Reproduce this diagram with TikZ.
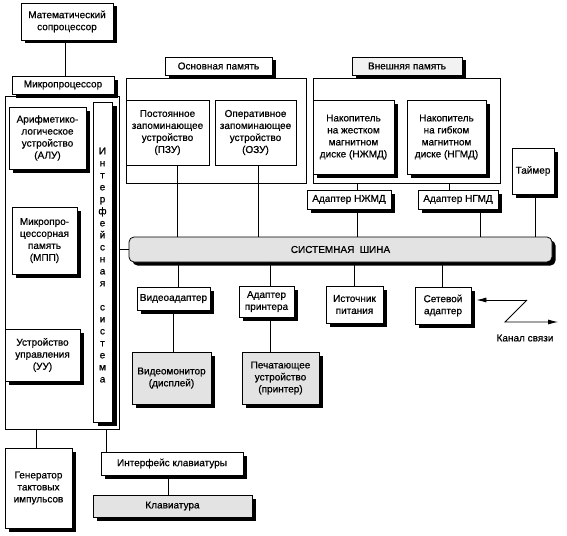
\documentclass[tikz,border=0pt]{standalone}
\usepackage{fontspec}
\setmainfont{Liberation Sans}
\newfontface\heavy{Liberation Sans}[FakeBold=0.6]
\usetikzlibrary{shadows,arrows.meta,calc}
\begin{document}
\begin{tikzpicture}[x=1pt,y=-1pt,
  txt/.style={font=\heavy\fontsize{10}{12}\selectfont},
  box/.style={txt, draw=black, line width=0.8pt, fill=white, align=center, inner sep=1pt},
  shd/.style={drop shadow={shadow xshift=3.5pt, shadow yshift=-3.5pt, fill=black, opacity=1}},
  stip/.style={fill=black!11},
  frame/.style={draw=black, line width=0.8pt, inner sep=0pt},
  conn/.style={line width=0.8pt},
  arr/.style={conn, -{Latex[length=10pt,width=5pt]}}
  ]
\useasboundingbox (0,0) rectangle (567,535);

% frames
\node[frame, minimum width=114pt, minimum height=333pt] (mpframe) at (62,262.5) {};
\node[frame, minimum width=180pt, minimum height=105pt] (omframe) at (216,130.5) {};
\node[frame, minimum width=187pt, minimum height=105pt] (emframe) at (406.5,130.5) {};

% processor
\node[box, shd, minimum width=92pt, minimum height=37pt] (cop) at (67,21.5) {Математический\\сопроцессор};
\node[box, shd, minimum width=102pt, minimum height=18pt] (mplabel) at (63,85) {Микропроцессор};
\node[box, shd, minimum width=77pt, minimum height=62pt] (alu) at (47.5,138) {Арифметико-\\логическое\\устройство\\(АЛУ)};
\node[box, shd, minimum width=65pt, minimum height=67pt] (mpp) at (44.5,240.5) {Микропро-\\цессорная\\память\\(МПП)};
\node[box, shd, minimum width=75pt, minimum height=52pt] (uu) at (42.5,355) {Устройство\\управления\\(УУ)};
\node[box, drop shadow={shadow xshift=4.5pt, shadow yshift=-3.5pt, fill=black, opacity=1},
  minimum width=19pt, minimum height=320pt] (isys) at (102.5,262) {};
\node[txt, align=center, inner sep=0pt] (isystxt) at (102.5,265)
  {И\\н\\т\\е\\р\\ф\\е\\й\\с\\н\\а\\я\\[12pt]с\\и\\с\\т\\е\\м\\а};
\node[box, shd, minimum width=67pt, minimum height=80pt] (gen) at (38.5,488) {Генератор\\тактовых\\импульсов};
\node[box, shd, minimum width=142pt, minimum height=23pt] (kbi) at (172,463.5) {Интерфейс клавиатуры};
\node[box, shd, stip, minimum width=159pt, minimum height=22pt] (kb) at (172.5,506) {Клавиатура};

% main memory
\node[box, shd, minimum width=107pt, minimum height=18pt] (omlabel) at (218.5,66) {Основная память};
\node[box, minimum width=83pt, minimum height=65pt] (rom) at (167.5,132.5) {Постоянное\\запоминающее\\устройство\\(ПЗУ)};
\node[box, minimum width=81pt, minimum height=65pt] (ram) at (255.5,132.5) {Оперативное\\запоминающее\\устройство\\(ОЗУ)};

% external memory
\node[box, shd, fill=black!5, minimum width=110pt, minimum height=18pt] (emlabel) at (407,66) {Внешняя память};
\node[box, shd, minimum width=81pt, minimum height=74pt] (hdd) at (353.5,137) {Накопитель\\на жестком\\магнитном\\диске (НЖМД)};
\node[box, shd, minimum width=79pt, minimum height=74pt] (fdd) at (446.5,137) {Накопитель\\на гибком\\магнитном\\диске (НГМД)};
\node[box, shd, minimum width=84pt, minimum height=19pt] (hdda) at (349,199.5) {Адаптер НЖМД};
\node[box, shd, minimum width=80pt, minimum height=19pt] (fdda) at (458,199.5) {Адаптер НГМД};
\node[box, shd, minimum width=42pt, minimum height=46pt] (timer) at (533,171) {Таймер};

% bus
\node[box, shd, stip, rounded corners=5pt, minimum width=423pt, minimum height=25pt] (bus) at (340.5,249.5) {СИСТЕМНАЯ\ \ ШИНА};

% peripherals
\node[box, shd, minimum width=73pt, minimum height=23pt] (va) at (173.5,298.5) {Видеоадаптер};
\node[box, shd, minimum width=55pt, minimum height=31pt] (pa) at (266.5,301.5) {Адаптер\\принтера};
\node[box, shd, minimum width=57pt, minimum height=37pt] (ps) at (354.5,304.5) {Источник\\питания};
\node[box, shd, minimum width=56pt, minimum height=37pt] (na) at (443,305.5) {Сетевой\\адаптер};
\node[box, shd, stip, minimum width=79pt, minimum height=52pt] (vm) at (171.5,378) {Видеомонитор\\(дисплей)};
\node[box, shd, stip, minimum width=77pt, minimum height=52pt] (pr) at (280.5,378) {Печатающее\\устройство\\(принтер)};

% channel
\coordinate (z1) at (527,300);
\coordinate (z2) at (505,322);
\coordinate (z3) at (558,322);
\node[txt] (ch) at (525,338) {Канал связи};

% connectors
\draw[conn] ([xshift=-2pt]cop.south) -- ([xshift=-2pt]cop.south |- mplabel.north);
\draw[conn] ([xshift=9.5pt]rom.south) -- ([xshift=9.5pt]rom.south |- bus.north);
\draw[conn] ([xshift=2.5pt]ram.south) -- ([xshift=2.5pt]ram.south |- bus.north);
\draw[conn] ([xshift=8pt]hdda.north |- emframe.south) -- ([xshift=8pt]hdda.north);
\draw[conn] ([xshift=8pt]hdda.south) -- ([xshift=8pt]hdda.south |- bus.north);
\draw[conn] ([xshift=-9pt]fdda.north |- emframe.south) -- ([xshift=-9pt]fdda.north);
\draw[conn] ([xshift=22pt]fdda.south) -- ([xshift=22pt]fdda.south |- bus.north);
\draw[conn] ([xshift=2pt]timer.south) -- ([xshift=2pt]timer.south |- bus.north);
\draw[conn] (mpframe.east |- bus.west) -- (bus.west);
\draw[conn] ([xshift=4.5pt]va.north |- bus.south) -- ([xshift=4.5pt]va.north);
\draw[conn] ([xshift=3.5pt]pa.north |- bus.south) -- ([xshift=3.5pt]pa.north);
\draw[conn] (ps.north |- bus.south) -- (ps.north);
\draw[conn] ([xshift=-1pt]na.north |- bus.south) -- ([xshift=-1pt]na.north);
\draw[conn] (va.south) -- (va.south |- vm.north);
\draw[conn] ([xshift=3.5pt]pa.south) -- ([xshift=3.5pt]pa.south |- pr.north);
\draw[conn] ([xshift=-2.5pt]gen.north |- mpframe.south) -- ([xshift=-2.5pt]gen.north);
\draw[conn] ([xshift=6pt]kbi.north west |- mpframe.south) -- ([xshift=6pt]kbi.north west);
\draw[conn] ([xshift=-4pt]kbi.south) -- ([xshift=-4pt]kbi.south |- kb.north);
\draw[arr, shorten >=5pt] (z1) -- (na.east |- z1);
\draw[arr] (z1) -- (z2) -- (z3);
\end{tikzpicture}
\end{document}
